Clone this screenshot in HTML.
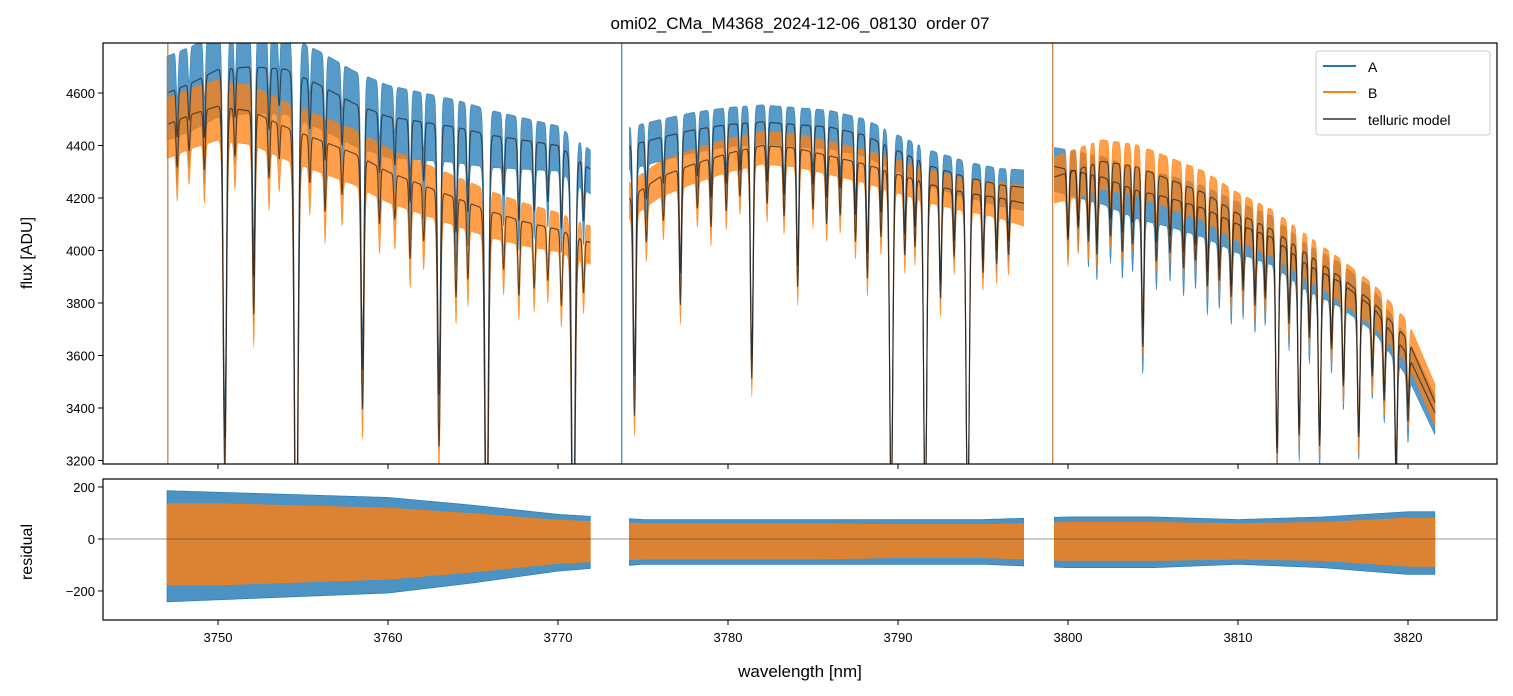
<!DOCTYPE html>
<html><head><meta charset="utf-8">
<style>
html,body{margin:0;padding:0;background:#fff;width:1513px;height:696px;overflow:hidden;}
svg{display:block;font-family:"Liberation Sans","DejaVu Sans",sans-serif;}
</style></head>
<body>
<svg id="chart" width="1513" height="696" viewBox="0 0 1513 696">
<defs>
<clipPath id="clipTop"><rect x="103" y="43" width="1394" height="421"/></clipPath>
<clipPath id="clipBot"><rect x="103" y="479" width="1394" height="141"/></clipPath>
</defs>
<rect width="1513" height="696" fill="#fff"/>
<text x="800" y="29" text-anchor="middle" font-size="17" style="white-space:pre">omi02_CMa_M4368_2024-12-06_08130  order 07</text>
<g id="topPlot" clip-path="url(#clipTop)"></g>
<g id="botPlot" clip-path="url(#clipBot)"></g>
<g id="axes"></g>
<text x="32" y="253" transform="rotate(-90 32 253)" text-anchor="middle" font-size="16">flux [ADU]</text>
<text x="32" y="552" transform="rotate(-90 32 552)" text-anchor="middle" font-size="16">residual</text>
<text x="800" y="677" text-anchor="middle" font-size="17">wavelength [nm]</text>
<g>
<rect x="1316" y="51" width="174" height="84" rx="3" fill="#fff" fill-opacity="0.85" stroke="#ccc"/>
<line x1="1323" y1="66" x2="1356" y2="66" stroke="#1f77b4" stroke-width="2"/>
<text x="1368" y="72" font-size="14">A</text>
<line x1="1323" y1="92" x2="1356" y2="92" stroke="#ff7f0e" stroke-width="2"/>
<text x="1368" y="98" font-size="14">B</text>
<line x1="1323" y1="119" x2="1356" y2="119" stroke="#666" stroke-width="2"/>
<text x="1368" y="125" font-size="14">telluric model</text>
</g>
</svg>
<script>
const xTicks=[3750,3760,3770,3780,3790,3800,3810,3820];
const yTicksTop=[3200,3400,3600,3800,4000,4200,4400,4600];
const yTicksBot=[-200,0,200];
const segments=[[3747.0,3771.9],[3774.2,3797.4],[3799.2,3821.6]];
const contWave=[3747,3748.5,3750,3752,3754,3756,3758,3760,3762,3764,3766,3768,3770,3771.9,3774.2,3776,3778,3780,3782,3784,3786,3788,3790,3792,3794,3796,3797.4,3799.2,3802,3804,3806,3808,3810,3812,3814,3816,3818,3820,3821.6];
const contA=[4600,4640,4690,4700,4690,4630,4560,4510,4490,4470,4440,4420,4400,4310,4400,4430,4460,4480,4490,4480,4470,4440,4380,4320,4280,4250,4240,4320,4280,4230,4200,4160,4100,4050,3950,3880,3780,3600,3380];
const contB=[4480,4520,4550,4530,4470,4420,4370,4300,4250,4200,4150,4110,4080,4030,4200,4280,4330,4370,4400,4390,4360,4330,4290,4250,4220,4200,4180,4280,4340,4320,4270,4220,4140,4080,3990,3900,3800,3660,3420];
const lineCenters=[3747.6,3748.3,3749.2,3750.4,3751.0,3752.1,3753.0,3753.6,3754.6,3755.4,3756.3,3757.3,3758.5,3759.5,3760.4,3761.3,3762.1,3763.0,3764.0,3764.7,3765.8,3766.8,3767.7,3768.6,3769.4,3770.2,3770.9,3771.5,3774.5,3775.2,3776.2,3777.2,3778.2,3779.0,3779.9,3780.7,3781.4,3782.3,3783.3,3784.1,3785.0,3785.8,3786.6,3787.5,3788.2,3789.0,3789.6,3790.4,3791.0,3791.6,3792.5,3793.3,3794.1,3795.0,3795.8,3796.5,3800.0,3800.6,3801.2,3801.7,3802.5,3803.2,3803.8,3804.4,3805.2,3806.0,3806.8,3807.5,3808.2,3808.9,3809.6,3810.3,3811.0,3811.6,3812.3,3813.0,3813.6,3814.2,3814.8,3815.5,3816.2,3817.1,3817.9,3818.6,3819.3,3820.0];
const lineDepths=[0.04,0.03,0.05,0.3,0.04,0.17,0.05,0.03,0.4,0.04,0.06,0.04,0.22,0.05,0.04,0.07,0.05,0.23,0.09,0.07,0.35,0.05,0.07,0.06,0.05,0.07,0.35,0.05,0.2,0.05,0.04,0.12,0.04,0.06,0.05,0.04,0.2,0.05,0.06,0.12,0.05,0.06,0.05,0.07,0.1,0.06,0.3,0.07,0.06,0.3,0.1,0.06,0.3,0.07,0.06,0.05,0.06,0.05,0.06,0.07,0.05,0.06,0.05,0.14,0.06,0.05,0.06,0.05,0.07,0.06,0.07,0.06,0.07,0.06,0.2,0.07,0.17,0.07,0.17,0.07,0.1,0.14,0.07,0.08,0.14,0.07];
const noiseWave=[3745,3750,3755,3760,3765,3770,3775,3780,3785,3790,3795,3800,3805,3810,3815,3820,3825];
const noiseA=[140,140,130,120,100,75,70,65,65,60,60,75,85,85,75,65,65];
const noiseB=[100,100,95,90,80,65,60,55,55,55,55,80,85,80,70,70,65];
const residA=[190,180,170,160,130,95,75,75,75,75,75,85,85,75,85,105,105];
const residB=[160,160,150,140,115,85,70,70,70,65,65,75,75,70,75,95,95];
const spikes=[3747.05,3773.75,3799.1];

const X0=103,X1=1497;
const xs=w=>218+(w-3750)*17;
const yt=v=>93+(4600-v)*0.2625;
const yb=v=>539-v*0.26;
const interp=(ws,vs,w)=>{if(w<=ws[0])return vs[0];for(let i=1;i<ws.length;i++){if(w<=ws[i]){const t=(w-ws[i-1])/(ws[i]-ws[i-1]);return vs[i-1]+t*(vs[i]-vs[i-1]);}}return vs[vs.length-1];};
const absorb=w=>{let f=1;for(let i=0;i<lineCenters.length;i++){const s=0.05+lineDepths[i]*0.15;const d=(w-lineCenters[i])/s;if(Math.abs(d)<6)f*=1-Math.min(0.97,lineDepths[i])*Math.exp(-d*d/2);}return f;};
const NS="http://www.w3.org/2000/svg";
const mk=(tag,attrs,parent)=>{const e=document.createElementNS(NS,tag);for(const k in attrs)e.setAttribute(k,attrs[k]);parent.appendChild(e);return e;};
const gTop=document.getElementById('topPlot'),gBot=document.getElementById('botPlot'),gAxes=document.getElementById('axes');

function bandPath(seg,centerFn,ampFn,yf){const up=[],dn=[];for(let w=seg[0];w<=seg[1]+1e-9;w+=0.03){const c=centerFn(w),a=ampFn(w);up.push(xs(w).toFixed(1)+','+yf(c+a).toFixed(1));dn.unshift(xs(w).toFixed(1)+','+yf(c-a*1.3).toFixed(1));}return 'M'+up.join('L')+'L'+dn.join('L')+'Z';}
function linePath(seg,fn,yf){const p=[];for(let w=seg[0];w<=seg[1]+1e-9;w+=0.02)p.push(xs(w).toFixed(1)+','+yf(fn(w)).toFixed(1));return 'M'+p.join('L');}

const modelA=w=>interp(contWave,contA,w)*absorb(w);
const modelB=w=>interp(contWave,contB,w)*absorb(w);
segments.forEach((seg,i)=>{
  const ba=mk('path',{d:bandPath(seg,modelA,w=>interp(noiseWave,noiseA,w),yt),fill:'#1f77b4','fill-opacity':0.75,stroke:'#1f77b4','stroke-width':0.6,'stroke-opacity':0.8},gTop);
  
  
  const bb=mk('path',{d:bandPath(seg,modelB,w=>interp(noiseWave,noiseB,w),yt),fill:'#ff7f0e','fill-opacity':0.75,stroke:'#ff7f0e','stroke-width':0.6,'stroke-opacity':0.8},gTop);
  
  
});
segments.forEach((seg,i)=>{
  const la=mk('path',{d:linePath(seg,modelA,yt),fill:'none',stroke:'#222','stroke-opacity':0.75,'stroke-width':1.1},gTop);
  
  
  const lb=mk('path',{d:linePath(seg,modelB,yt),fill:'none',stroke:'#222','stroke-opacity':0.75,'stroke-width':1.1},gTop);
  
  
});
spikes.forEach((w,i)=>{
  const s=mk('line',{x1:xs(w),x2:xs(w),y1:43,y2:464,stroke:i==1?'#4a7fa8':'#c8763a','stroke-width':1.2},gTop);
  
  
});
segments.forEach((seg,i)=>{
  const ra=mk('path',{d:bandPath(seg,()=>0,w=>interp(noiseWave,residA,w),yb),fill:'#1f77b4','fill-opacity':0.8,stroke:'#1f77b4','stroke-width':0.6},gBot);
  
  
  const rb=mk('path',{d:bandPath(seg,()=>0,w=>interp(noiseWave,residB,w)*0.85,yb),fill:'#ff7f0e','fill-opacity':0.8,stroke:'#ff7f0e','stroke-width':0.6},gBot);
  
  
});
const zl=mk('line',{x1:X0,x2:X1,y1:yb(0),y2:yb(0),stroke:'#333','stroke-width':0.6},gBot);



const f1=mk('rect',{x:103,y:43,width:1394,height:421,fill:'none',stroke:'#000','stroke-width':1.2},gAxes);


const f2=mk('rect',{x:103,y:479,width:1394,height:141,fill:'none',stroke:'#000','stroke-width':1.2},gAxes);


xTicks.forEach(t=>{
  const x=xs(t);
  mk('line',{x1:x,x2:x,y1:464,y2:469,stroke:'#000'},gAxes);
  mk('line',{x1:x,x2:x,y1:620,y2:625,stroke:'#000'},gAxes);
  const tx=mk('text',{x:x,y:642,'text-anchor':'middle','font-size':13},gAxes);
  tx.textContent=t;
  
  
});
yTicksTop.forEach(t=>{
  const y=yt(t);
  mk('line',{x1:98,x2:103,y1:y,y2:y,stroke:'#000'},gAxes);
  const tx=mk('text',{x:95,y:y+5,'text-anchor':'end','font-size':13},gAxes);
  tx.textContent=t;
  
  
});
yTicksBot.forEach(t=>{
  const y=yb(t);
  mk('line',{x1:98,x2:103,y1:y,y2:y,stroke:'#000'},gAxes);
  const tx=mk('text',{x:95,y:y+5,'text-anchor':'end','font-size':13},gAxes);
  tx.textContent=t<0?'\u2212'+(-t):t;
  
  
});
</script>
</body></html>
